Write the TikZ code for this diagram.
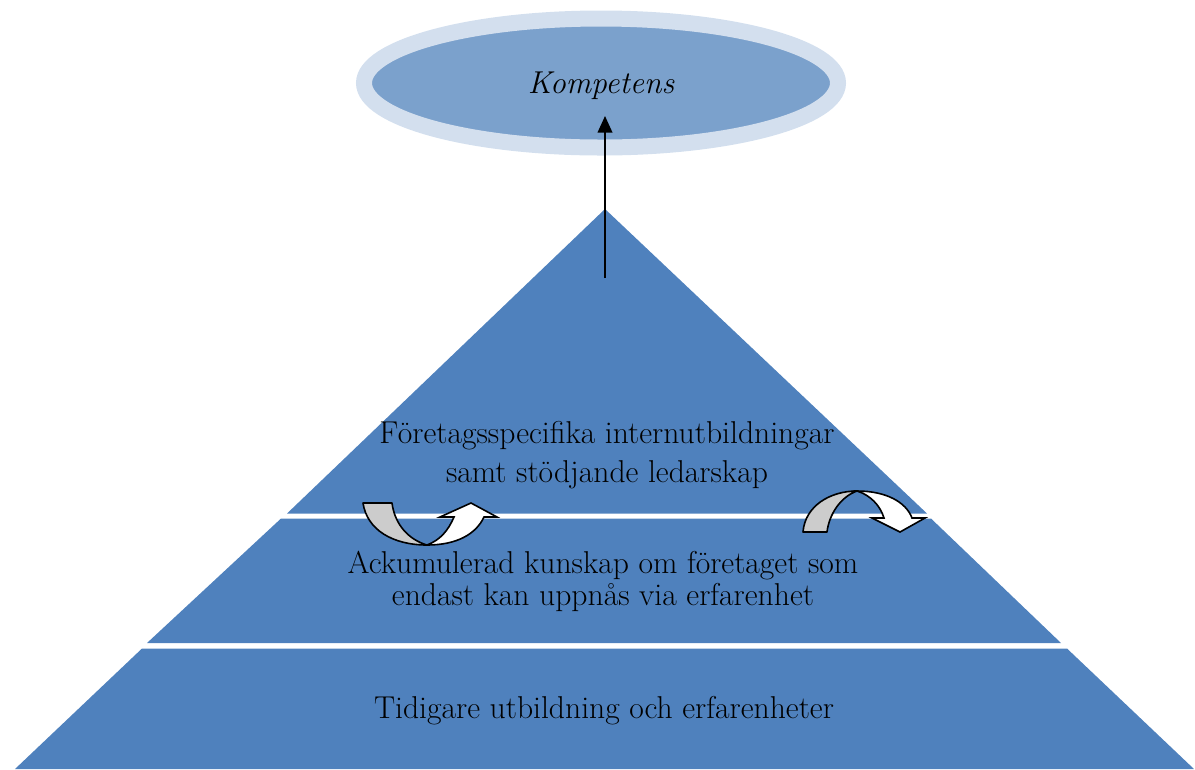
\documentclass[tikz,border=0pt]{standalone}
\usetikzlibrary{shapes.geometric,arrows.meta}
\definecolor{pyr}{HTML}{4F81BD}
\definecolor{ellin}{HTML}{7BA1CC}
\definecolor{ellring}{HTML}{D3DFEE}
\definecolor{arrgray}{HTML}{CCCCCC}
\begin{document}
\begin{tikzpicture}[x=0.75pt,y=-0.75pt,
  layer/.style={fill=pyr,draw=none},
  lbl/.style={align=center,text=black,inner sep=0pt,anchor=base},
  curvegray/.style={fill=arrgray,draw=black,line width=1.2pt,line join=round},
  curvewhite/.style={fill=white,draw=black,line width=1.2pt,line join=miter},
  up/.style={-{Triangle[length=12.5pt,width=11pt]},line width=1.4pt,draw=black}]
\useasboundingbox (0,0) rectangle (1195,769);
% pyramid layers
\path[layer] (605,209) -- (927,513.5) -- (287,513.5) -- cycle;
\path[layer] (281,518.5) -- (931,518.5) -- (1061,643) -- (147,643) -- cycle;
\path[layer] (142,648.5) -- (1067,648.5) -- (1194,769) -- (15,769) -- cycle;
% ellipse
\node[ellipse,minimum width=355.5pt,minimum height=96.75pt,inner sep=0pt,
      fill=ellin,draw=ellring,line width=12pt] (komp) at (601,83) {};
\node[lbl,font=\fontsize{23.7}{28}\selectfont\itshape] (kompt) at (601,93) {Kompetens};
% arrow
\coordinate (start) at (605,278);
\coordinate (tip) at (605,116);
\draw[up] (start) -- (tip);
% labels (base anchor = last line baseline)
\node[lbl,font=\fontsize{23.7}{29.25}\selectfont] (t1) at (607,482) {Företagsspecifika internutbildningar\\samt stödjande ledarskap};
\node[lbl,font=\fontsize{23.7}{24}\selectfont] (t2) at (603,605) {Ackumulerad kunskap om företaget som\\endast kan uppnås via erfarenhet};
\node[lbl,font=\fontsize{23.7}{28}\selectfont] (t3) at (604,718) {Tidigare utbildning och erfarenheter};
% left U-turn arrow
\draw[curvegray] (363,503) -- (392,503) .. controls (395,526) and (410,540) .. (427,545)
   .. controls (393,545) and (367,530) .. (363,503) -- cycle;
\draw[curvewhite] (427,545) .. controls (457,545) and (476,534) .. (484,517) -- (497,517) -- (471,503)
   -- (440,517) -- (454,517) .. controls (448,531) and (440,540) .. (427,545) -- cycle;
% right arch arrow
\draw[curvegray] (803,532) .. controls (805,506) and (830,491) .. (857,491)
   .. controls (840,497) and (829,515) .. (827,532) -- cycle;
\draw[curvewhite] (857,491) .. controls (886,491) and (906,502) .. (912,518) -- (925,518) -- (900,532)
   -- (872,518) -- (884,518) .. controls (880,505) and (870,495) .. (857,491) -- cycle;
\end{tikzpicture}
\end{document}
